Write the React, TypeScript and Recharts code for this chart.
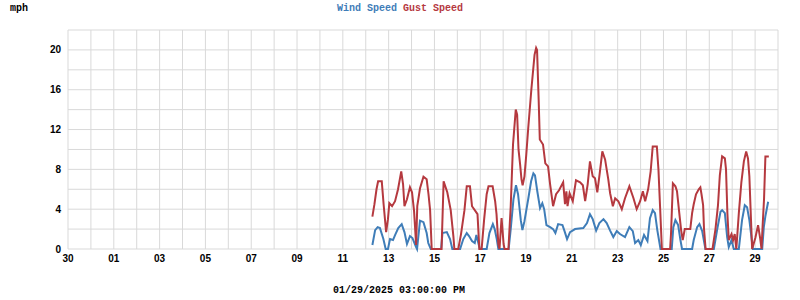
import React from "react";
import { LineChart, Line, XAxis, YAxis, CartesianGrid } from "recharts";

// Time in days since Dec 30 00:00 (local), values in mph
const windDays = [
  13.29, 13.41, 13.52, 13.62, 13.77, 13.87, 13.97, 14.06, 14.19, 14.28, 14.42, 14.57, 14.69, 14.8, 14.93,
  15.04, 15.18, 15.24, 15.37, 15.52, 15.66, 15.73, 15.84, 16.29, 16.35, 16.54, 16.68, 16.78, 17.12, 17.26,
  17.41, 17.51, 17.64, 17.76, 17.83, 17.98, 18.28, 18.4, 18.55, 18.63, 18.72, 18.79, 19.24, 19.33, 19.45,
  19.56, 19.65, 19.77, 19.84, 19.93, 20.1, 20.22, 20.32, 20.39, 20.49, 20.61, 20.71, 20.79, 20.89, 21.05,
  21.18, 21.28, 21.4, 21.59, 21.68, 21.79, 21.92, 22.14, 22.5, 22.66, 22.79, 22.91, 23.06, 23.2, 23.38,
  23.52, 23.67, 23.81, 23.96, 24.1, 24.32, 24.51, 24.66, 24.76, 24.9, 25.01, 25.15, 25.3, 25.41, 25.53,
  25.63, 25.73, 25.87, 26.36, 26.43, 26.52, 26.64, 26.74, 26.81, 27.25, 27.32, 27.47, 27.57, 27.69, 27.83,
  28.2, 28.34, 28.49, 28.56, 28.68, 28.78, 28.85, 28.97, 29.07, 29.29, 29.43, 29.55, 29.65, 29.75, 29.84,
  29.9, 30.31, 30.38, 30.45, 30.57,
];
const windMph = [
  0.4, 1.9, 2.2, 2.1, 1.0, 0, 0, 1.0, 0.9, 1.4, 2.1, 2.5, 1.7, 0.5, 1.3,
  1.1, 0.3, 0, 2.85, 2.7, 1.6, 0.6, 0, 0, 1.6, 1.7, 1.0, 0, 0, 1.0,
  1.6, 1.3, 0.8, 0.6, 1.4, 0, 0, 1.6, 2.5, 2.0, 1.0, 0, 0, 2.0, 5.0,
  6.4, 5.5, 2.9, 1.9, 2.8, 5.1, 6.8, 7.6, 7.4, 5.8, 4.1, 4.6, 4.0, 2.4, 2.2,
  2.0, 1.6, 2.5, 2.4, 1.8, 1.0, 1.7, 2.0, 2.1, 2.6, 3.5, 3.0, 1.85, 2.6, 3.0,
  2.6, 1.85, 1.2, 1.8, 1.5, 1.2, 2.2, 1.8, 0.6, 0.9, 0.4, 1.4, 0.8, 3.1, 3.9,
  3.6, 1.9, 0, 0, 2.2, 2.9, 2.4, 0.9, 0, 0, 0.9, 2.2, 2.5, 1.8, 0,
  0, 1.9, 3.75, 3.9, 3.6, 1.2, 0.2, 0.9, 0, 0, 2.9, 4.4, 4.2, 2.9, 1.2,
  0, 0, 2.2, 3.3, 4.75,
];

const gustDays = [
  13.29, 13.38, 13.47, 13.54, 13.7, 13.78, 13.89, 13.97, 14.03, 14.15, 14.28, 14.41, 14.55, 14.63, 14.69,
  14.8, 14.93, 15.02, 15.11, 15.2, 15.25, 15.37, 15.52, 15.66, 15.74, 15.81, 15.88, 16.31, 16.4, 16.56,
  16.71, 16.83, 16.87, 17.04, 17.16, 17.31, 17.41, 17.55, 17.64, 17.82, 17.88, 17.96, 18.06, 18.17, 18.28,
  18.36, 18.54, 18.65, 18.71, 18.79, 18.84, 18.93, 19.02, 19.06, 19.23, 19.33, 19.43, 19.55, 19.61, 19.67,
  19.74, 19.8, 19.85, 19.93, 20.01, 20.09, 20.23, 20.37, 20.44, 20.48, 20.55, 20.6, 20.74, 20.84, 20.96,
  21.05, 21.18, 21.31, 21.44, 21.62, 21.7, 21.76, 21.81, 21.9, 22.04, 22.18, 22.36, 22.48, 22.58, 22.69,
  22.79, 22.91, 23.01, 23.11, 23.21, 23.33, 23.45, 23.59, 23.67, 23.79, 23.89, 24.03, 24.18, 24.32, 24.51,
  24.69, 24.83, 24.98, 25.1, 25.2, 25.33, 25.44, 25.53, 25.71, 25.78, 25.85, 25.93, 26.29, 26.33, 26.41,
  26.52, 26.59, 26.69, 26.77, 26.84, 26.93, 27.17, 27.25, 27.32, 27.42, 27.54, 27.61, 27.66, 27.73, 27.77,
  27.84, 28.14, 28.27, 28.38, 28.46, 28.56, 28.68, 28.73, 28.79, 28.85, 28.97, 29.04, 29.11, 29.18, 29.29,
  29.4, 29.51, 29.61, 29.69, 29.75, 29.81, 29.87, 30.01, 30.13, 30.22, 30.28, 30.33, 30.39, 30.45, 30.6,
];
const gustMph = [
  3.25, 4.5, 6.0, 6.8, 6.8, 4.5, 1.7, 3.0, 4.6, 4.3, 4.8, 6.0, 7.8, 6.5, 4.3,
  5.0, 6.2, 5.7, 3.8, 0.4, 4.3, 6.1, 7.27, 7.0, 5.5, 3.9, 0, 0, 6.8, 5.7,
  3.9, 1.2, 0, 0, 1.5, 3.9, 6.3, 6.3, 4.3, 3.7, 3.5, 0, 0, 3.0, 5.5,
  6.3, 6.3, 4.8, 3.5, 0.5, 0, 3.1, 0.5, 0, 0, 4.3, 10.5, 14.0, 13.5, 10.0,
  8.5, 7.0, 6.4, 7.3, 9.5, 12.0, 16.0, 19.5, 20.2, 20.0, 15.0, 11.0, 10.5, 8.6, 8.3,
  6.5, 4.3, 5.5, 5.9, 6.7, 4.5, 5.8, 4.3, 5.6, 4.8, 6.9, 6.7, 6.4, 4.8, 6.5,
  8.8, 7.3, 7.1, 5.7, 7.5, 9.8, 9.0, 7.0, 5.6, 4.3, 5.1, 4.8, 4.0, 5.1, 6.3,
  5.1, 4.0, 4.8, 5.8, 4.8, 6.0, 7.8, 10.3, 10.3, 8.0, 4.3, 0, 0, 1.6, 6.6,
  6.3, 5.8, 3.6, 1.9, 0.9, 2.0, 2.0, 3.6, 4.5, 5.5, 6.0, 6.2, 5.5, 4.4, 2.0,
  0, 0, 2.0, 4.4, 7.4, 9.3, 9.1, 8.0, 3.6, 0.9, 1.5, 0.9, 1.5, 0, 3.6,
  6.7, 8.8, 9.8, 9.1, 7.3, 3.6, 0, 1.1, 2.4, 1.1, 0, 2.4, 5.0, 9.3, 9.3,
];

const gridDays = [0, 1, 2, 3, 4, 5, 6, 7, 8, 9, 10, 11, 12, 13, 14, 15, 16, 17, 18, 19, 20, 21, 22, 23, 24, 25, 26, 27, 28, 29, 30, 31];
const xTickDays = [0, 2, 4, 6, 8, 10, 12, 14, 16, 18, 20, 22, 24, 26, 28, 30];
const xTickLabels = ["30", "01", "03", "05", "07", "09", "11", "13", "15", "17", "19", "21", "23", "25", "27", "29"];
const yGridValues = [0, 2, 4, 6, 8, 10, 12, 14, 16, 18, 20, 22];
const yTickLabels = ["0", "4", "8", "12", "16", "20"];

const seriesNames = ["Wind Speed", "Gust Speed"];
const unitLabel = "mph";
const timestampLabel = "01/29/2025 03:00:00 PM";

const WIND = "#3f7db8";
const GUST = "#b5393f";

const windData = windDays.map((t, i) => ({ t, v: windMph[i] }));
const gustData = gustDays.map((t, i) => ({ t, v: gustMph[i] }));

const tickFont = { fontFamily: "'Liberation Sans', Arial, sans-serif", fontSize: 10, fontWeight: 700, fill: "#000" };
const monoText: React.CSSProperties = {
  position: "absolute",
  fontFamily: "'Liberation Mono', 'Courier New', monospace",
  fontSize: 10,
  fontWeight: 700,
  lineHeight: "12px",
  whiteSpace: "pre",
};

export default function App() {
  return (
    <div style={{ position: "absolute", left: 0, top: 0, width: 800, height: 300, background: "#fff" }}>
      <LineChart width={800} height={300} margin={{ top: 30, right: 22, bottom: 0, left: 0 }}>
        <CartesianGrid stroke="#d9d9d9" strokeWidth={1} />
        <XAxis
          type="number"
          dataKey="t"
          domain={[0, 31]}
          ticks={gridDays}
          interval={0}
          allowDataOverflow
          axisLine={false}
          tickLine={false}
          tickSize={0}
          tickMargin={6}
          height={51}
          tick={tickFont}
          tickFormatter={(v: number) => {
            const i = xTickDays.indexOf(v);
            return i >= 0 ? xTickLabels[i] : "";
          }}
        />
        <YAxis
          type="number"
          domain={[0, 22]}
          ticks={yGridValues}
          interval={0}
          axisLine={false}
          tickLine={false}
          tickSize={0}
          tickMargin={7}
          width={68}
          tick={tickFont}
          tickFormatter={(v: number) => (yTickLabels.includes(String(v)) ? String(v) : "")}
        />
        <Line data={windData} dataKey="v" type="linear" stroke={WIND} strokeWidth={2} dot={false} isAnimationActive={false} />
        <Line data={gustData} dataKey="v" type="linear" stroke={GUST} strokeWidth={2} dot={false} isAnimationActive={false} />
      </LineChart>
      <div style={{ ...monoText, left: 10, top: 3, color: "#000" }}>{unitLabel}</div>
      <div style={{ ...monoText, left: 337, top: 3 }}>
        <span style={{ color: WIND }}>{seriesNames[0]}</span> <span style={{ color: GUST }}>{seriesNames[1]}</span>
      </div>
      <div style={{ ...monoText, left: 333, top: 285, color: "#000" }}>{timestampLabel}</div>
    </div>
  );
}
